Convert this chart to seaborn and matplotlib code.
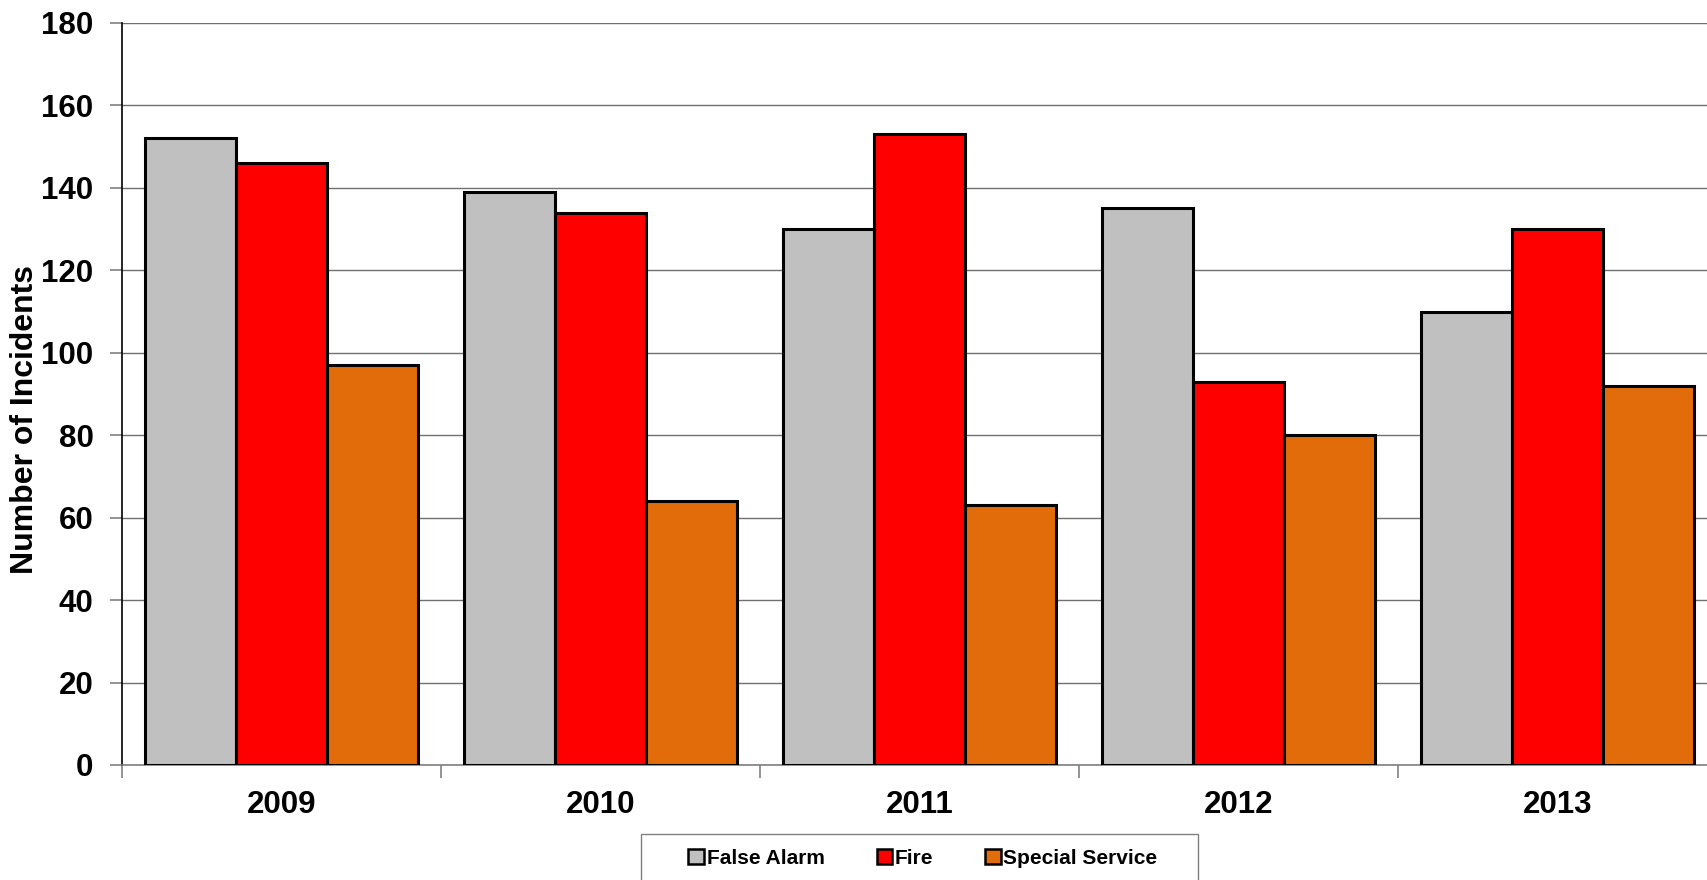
import matplotlib
matplotlib.use("Agg")
import matplotlib.pyplot as plt
import seaborn as sns
import pandas as pd
from matplotlib.patches import Rectangle

years = ["2009", "2010", "2011", "2012", "2013"]
false_alarm = [152, 139, 130, 135, 110]
fire = [146, 134, 153, 93, 130]
special_service = [97, 64, 63, 80, 92]
series_names = ["False Alarm", "Fire", "Special Service"]
colors = ["#C0C0C0", "#FF0000", "#E36C0A"]
y_ticks = [0, 20, 40, 60, 80, 100, 120, 140, 160, 180]

df = pd.DataFrame({
    "Year": years * 3,
    "Type": [series_names[0]] * 5 + [series_names[1]] * 5 + [series_names[2]] * 5,
    "Incidents": false_alarm + fire + special_service,
})

sns.set_style("white")
plt.rcParams["font.family"] = ["Liberation Sans", "DejaVu Sans"]
plt.rcParams["font.weight"] = "bold"
plt.rcParams["text.color"] = "black"
plt.rcParams["xtick.labelcolor"] = "black"
plt.rcParams["ytick.labelcolor"] = "black"

W, H = 1708, 880
fig = plt.figure(figsize=(W / 100, H / 100), dpi=100)
ax = fig.add_axes([122 / W, 1 - 765 / H, 1595 / W, 742 / H])

sns.barplot(data=df, x="Year", y="Incidents", hue="Type", order=years,
            hue_order=series_names, palette=colors, width=0.856, gap=0,
            edgecolor="black", linewidth=2.2, saturation=1, ax=ax, legend=False,
            zorder=3)

ax.set_xlim(-0.5, 4.5)
ax.set_ylim(0, 180)
ax.set_yticks(y_ticks)
ax.set_yticklabels([str(v) for v in y_ticks], fontsize=22.5, fontweight="bold",
                   color="black")
ax.yaxis.grid(True, color="#707070", linewidth=1.0, zorder=0)
ax.set_axisbelow(True)

# category boundary ticks and centered labels
ax.set_xticks([i - 0.5 for i in range(6)])
ax.set_xticklabels([])
ax.set_xticks(range(5), minor=True)
ax.set_xticklabels(years, minor=True, fontsize=22.5, fontweight="bold", color="black")
ax.tick_params(axis="x", which="major", direction="out", length=9, width=1.2,
               color="#808080", bottom=True)
ax.tick_params(axis="x", which="minor", length=0, pad=18)
ax.tick_params(axis="y", direction="out", length=9, width=1.2, color="#808080",
               left=True, pad=11.5)

ax.set_xlabel("")
ax.set_ylabel("")
for s in ["top", "right"]:
    ax.spines[s].set_visible(False)
ax.spines["left"].set_color("black")
ax.spines["left"].set_linewidth(1.2)
ax.spines["bottom"].set_color("#808080")
ax.spines["bottom"].set_linewidth(1.2)

fig.text(25 / W, 1 - 420 / H, "Number of Incidents", rotation=90, ha="center",
         va="center", fontsize=23, fontweight="bold", color="black")

# legend
handles = [Rectangle((0, 0), 1, 1, facecolor=c, edgecolor="black", linewidth=1.8)
           for c in colors]
leg = fig.legend(handles, series_names, loc="center", ncol=3,
                 bbox_to_anchor=(923 / W, 1 - 858 / H), frameon=False,
                 prop={"size": 15, "weight": "bold"}, handlelength=0.75,
                 handleheight=0.75, handletextpad=0.12, columnspacing=2.5)
for t in leg.get_texts():
    t.set_color("black")
fig.patches.append(Rectangle((641 / W, 1 - 910 / H), 557 / W, 76 / H,
                             transform=fig.transFigure, facecolor="white",
                             edgecolor="#808080", linewidth=1.0, zorder=0))

fig.savefig("out.png", dpi=100)
